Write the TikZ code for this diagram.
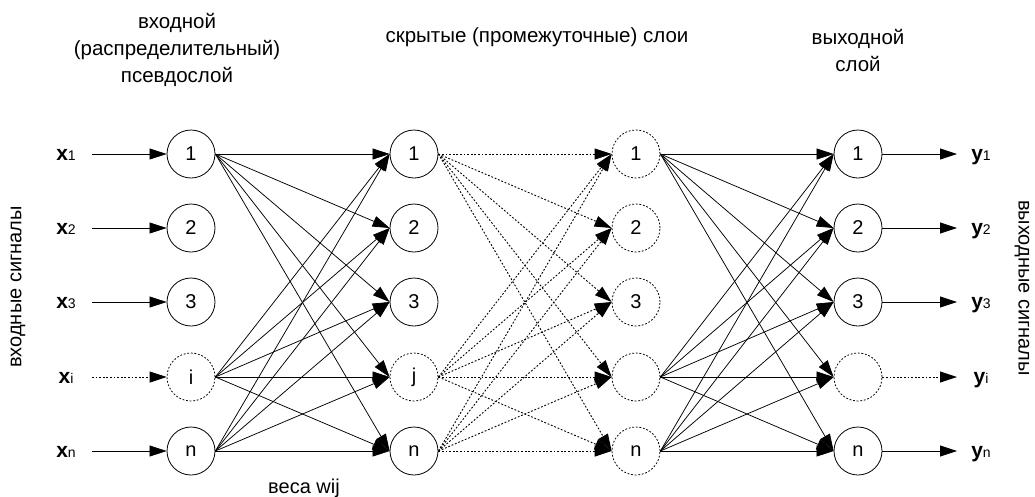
\documentclass[tikz,border=0pt]{standalone}
\usepackage{fontspec}
\setmainfont{Liberation Sans}
\usetikzlibrary{arrows.meta}
\begin{document}
\begin{tikzpicture}[x=1pt,y=-1pt,
  neuron/.style={circle,draw,line width=0.8pt,minimum size=48pt,inner sep=0pt,font=\fontsize{20}{20}\selectfont},
  ghost/.style={neuron,dash pattern=on 1.8pt off 1.8pt},
  conn/.style={line width=0.75pt,-{Triangle[length=17pt,width=11pt]}},
  dconn/.style={conn,line width=0.9pt,dash pattern=on 1.8pt off 1.8pt},
  head/.style={align=center,font=\fontsize{20.5}{27}\selectfont},
  side/.style={font=\fontsize{20}{20}\selectfont},
  lab/.style={inner sep=0pt,anchor=base}]
\useasboundingbox (0,0) rectangle (1035,496);
\newcommand{\xl}[2]{{\fontsize{21}{21}\selectfont\bfseries #1}{\fontsize{14}{14}\selectfont #2}}
% headers
\node[head] (hin) at (177,50) {входной\\(распределительный)\\псевдослой};
\node[head] (hhid) at (537,37) {скрытые (промежуточные) слои};
\node[head] (hout) at (858,50) {выходной\\слой};
\node[side,rotate=90] (sin) at (18,287) {входные сигналы};
\node[side,rotate=-90,inner sep=0pt] (sout) at (1022,288) {выходные сигналы};
\node[side] (w) at (304,488) {веса wij};
% layers
\foreach \r/\y/\t in {1/154/1,2/228/2,3/302/3,5/451/n}{
  \node[neuron] (I\r) at (191,\y) {\t};
  \node[neuron] (O\r) at (858,\y) {\t};
}
\node[ghost] (I4) at (191,377) {i};
\node[ghost] (O4) at (858,377) {};
\foreach \r/\y/\t in {1/154/1,2/228/2,3/302/3,5/451/n}{
  \node[neuron] (H\r) at (414,\y) {\t};
}
\node[ghost] (H4) at (414,377) {j};
\foreach \r/\y/\t in {1/154/1,2/228/2,3/302/3,4/377/{},5/451/n}{
  \node[ghost] (G\r) at (636,\y) {\t};
}
% input / output signals
\foreach \r/\y/\s in {1/154/1,2/228/2,3/302/3,4/377/i,5/451/n}{
  \coordinate (a\r) at (92,\y);
  \coordinate (b\r) at (957,\y);
  \node[lab] (x\r) at (66,\y+6) {\xl{x}{\s}};
  \node[lab] (y\r) at (981,\y+6) {\xl{y}{\s}};
}
\foreach \r in {1,2,3,5}{
  \draw[conn] (a\r) -- (I\r.west);
  \draw[conn] (O\r.east) -- (b\r);
}
\draw[dconn] (a4) -- (I4.west);
\draw[dconn] (O4.east) -- (b4);
% connections
\foreach \s in {1,4,5}{
  \foreach \d in {1,...,5}{
    \draw[conn] (I\s.east) -- (H\d.west);
    \draw[dconn] (H\s.east) -- (G\d.west);
    \draw[conn] (G\s.east) -- (O\d.west);
  }
}
\end{tikzpicture}
\end{document}
